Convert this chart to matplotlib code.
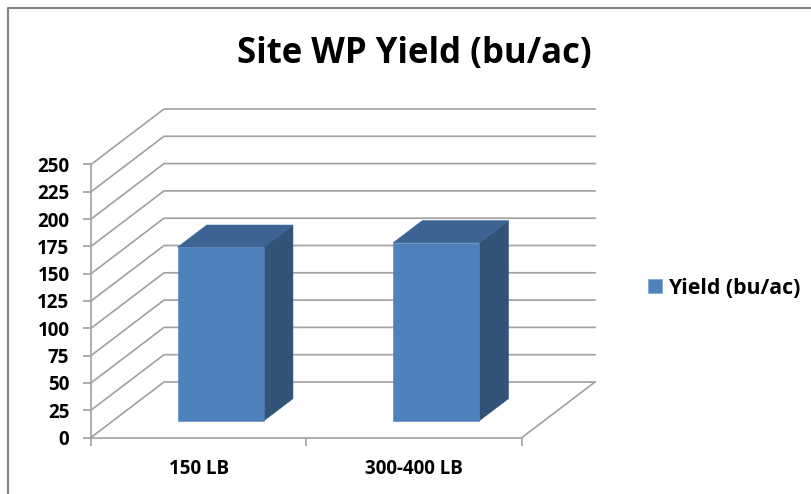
import matplotlib
matplotlib.use("Agg")
import matplotlib.pyplot as plt
from matplotlib.patches import Polygon, Rectangle

categories = ["150 LB", "300-400 LB"]
yield_values = [159, 163]
value_ticks = list(range(0, 251, 25))
series_name = "Yield (bu/ac)"
chart_title = "Site WP Yield (bu/ac)"

W, H = 812, 494
GRID = "#A3A3A3"
FRONT, TOP, SIDE = "#4F81BD", "#3D6392", "#325378"
FONT = "Open Sans"

fig = plt.figure(figsize=(W / 100, H / 100), dpi=100, facecolor="white")

# Axes spans the front plane of the oblique box
left, right, bottom, top = 91, 522, 437.5, 164.5
ax = fig.add_axes([left / W, 1 - bottom / H, (right - left) / W, (bottom - top) / H])
ax.set_xlim(0, 2)
ax.set_ylim(0, 250)
ax.patch.set_visible(False)

DEPTH_X = 73 / (right - left) * 2
DEPTH_Y = 55.5 / (bottom - top) * 250


def project(x, y, d):
    """Oblique projection: d is the depth into the box, 0 front to 1 back."""
    return x + d * DEPTH_X, y + d * DEPTH_Y


# Floor and back-wall gridlines
for v in value_ticks:
    pts = [project(0, v, 0), project(0, v, 1), project(2, v, 1)]
    ax.plot(*zip(*pts), color=GRID, lw=1.25, clip_on=False, zorder=1,
            solid_joinstyle="miter")
ax.plot(*zip(project(2, 0, 0), project(2, 0, 1)), color=GRID, lw=1.25,
        clip_on=False, zorder=1)

# Bars as three visible faces
bar_width = 0.4
d0, d1 = 0.3, 0.7
for i, val in enumerate(yield_values):
    x0, x1 = i + 0.5 - bar_width / 2, i + 0.5 + bar_width / 2
    front = [project(x0, 0, d0), project(x1, 0, d0), project(x1, val, d0), project(x0, val, d0)]
    side = [project(x1, 0, d0), project(x1, 0, d1), project(x1, val, d1), project(x1, val, d0)]
    roof = [project(x0, val, d0), project(x1, val, d0), project(x1, val, d1), project(x0, val, d1)]
    for face, colour in ((side, SIDE), (roof, TOP), (front, FRONT)):
        ax.add_patch(Polygon(face, closed=True, facecolor=colour, edgecolor=colour,
                             lw=0.4, clip_on=False, zorder=3))

# Category and value axes
for s in ("top", "right"):
    ax.spines[s].set_visible(False)
for s in ("left", "bottom"):
    ax.spines[s].set_color(GRID)
    ax.spines[s].set_linewidth(1.25)
ax.set_yticks(value_ticks)
ax.set_yticklabels([str(v) for v in value_ticks], fontname=FONT, fontweight="bold",
                   fontsize=13.5, color="black")
ax.set_xticks([0, 1, 2])
ax.set_xticklabels([])
ax.tick_params(axis="both", color=GRID, width=1.25, length=5.5)
ax.tick_params(axis="y", pad=10)
for i, name in enumerate(categories):
    ax.annotate(name, xy=(i + 0.5, 0), xycoords="data", xytext=(0, -26.3),
                textcoords="offset points", ha="center", va="baseline",
                fontname=FONT, fontweight="bold", fontsize=13.5, color="black")

# Outer frame of the chart area
fig.add_artist(plt.Line2D([7.5 / W, 7.5 / W, 1], [0, 1 - 8 / H, 1 - 8 / H],
                          transform=fig.transFigure, color="#848484", lw=1.5))

fig.text(414 / W, 1 - 54 / H, chart_title, ha="center", va="center", fontname=FONT,
         fontweight="bold", fontsize=25, color="black")

# Legend
handle = Rectangle((0, 0), 1, 1, facecolor=FRONT, edgecolor="#7FA3D0", lw=0.5)
fig.legend([handle], [series_name], loc="center left", bbox_to_anchor=(648 / W, 1 - 288 / H),
           frameon=False, handlelength=0.65, handleheight=0.65, handletextpad=0.29,
           borderpad=0, borderaxespad=0,
           prop={"family": FONT, "weight": "bold", "size": 15.3})

fig.savefig("out.png", dpi=100)
